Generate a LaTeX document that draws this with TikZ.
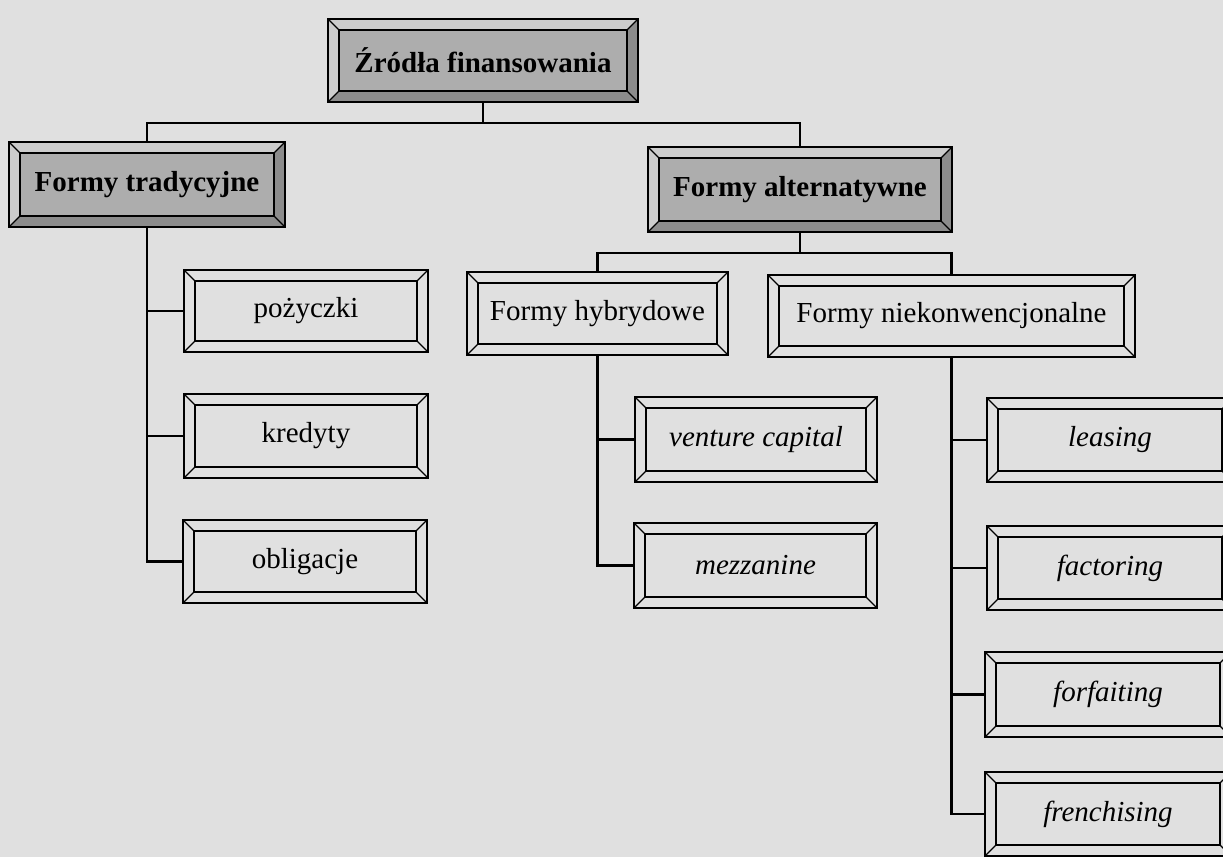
\documentclass[tikz,border=0pt]{standalone}
\usepackage{fontspec}
\setmainfont{Liberation Serif}
\newcommand{\bev}{11pt}
\begin{document}
\begin{tikzpicture}[x=1pt,y=-1pt]
  \definecolor{papier}{gray}{0.88}
  \definecolor{srodek}{gray}{0.68}
  \definecolor{jasny}{gray}{0.80}
  \definecolor{cien}{gray}{0.55}
  \tikzset{ramka/.style n args={3}{draw, line width=2.2pt, inner sep=0pt, align=center,
      path picture={
        \coordinate (pA) at (path picture bounding box.south west);
        \coordinate (pC) at (path picture bounding box.north east);
        \coordinate (pB) at (pA -| pC);
        \coordinate (pD) at (pA |- pC);
        \coordinate (qA) at ([shift={(\bev,\bev)}]pA);
        \coordinate (qB) at ([shift={(-\bev,\bev)}]pB);
        \coordinate (qC) at ([shift={(-\bev,-\bev)}]pC);
        \coordinate (qD) at ([shift={(\bev,-\bev)}]pD);
        \fill[#2] (pA) -- (pD) -- (pC) -- (qC) -- (qD) -- (qA) -- cycle;
        \fill[#3] (pA) -- (pB) -- (pC) -- (qC) -- (qB) -- (qA) -- cycle;
        \fill[#1] (qA) rectangle (qC);
        \draw[line width=1.8pt] (qA) rectangle (qC);
        \draw[line width=1.2pt] (pA) -- (qA) (pB) -- (qB) (pC) -- (qC) (pD) -- (qD);
      }}}
  \tikzstyle{glowny}=[ramka={srodek}{jasny}{cien}, font=\fontsize{29}{34}\selectfont\bfseries]
  \tikzstyle{zwykly}=[ramka={papier}{papier}{papier}, font=\fontsize{29}{34}\selectfont]
  \tikzstyle{kursywa}=[ramka={papier}{papier}{papier}, font=\fontsize{29}{34}\selectfont\itshape]
  \tikzstyle{lin}=[line width=2.4pt]

  % Tlo kartki, wymiary w pikselach skanu.
  \fill[papier] (0,0) rectangle (1223,857);
  \useasboundingbox (0,0) rectangle (1223,857);

  % Korzen i dwie glowne grupy
  \node[glowny, minimum width=310, minimum height=83] (zr) at (483,60.5) {Źródła finansowania};
  \node[glowny, minimum width=276, minimum height=85] (tr) at (147,184.5) {Formy tradycyjne};
  \node[glowny, minimum width=304, minimum height=85] (alt) at (800,189.5) {Formy alternatywne};

  \draw[lin] (zr.south) -- ++(0,20) -| (tr.north);
  \draw[lin] (zr.south) -- ++(0,20) -| (alt.north);

  % Formy tradycyjne, kolumna przy x = 305
  \node[zwykly, minimum width=244, minimum height=82] (t1) at (306,311) {pożyczki};
  \node[zwykly, minimum width=244, minimum height=84] (t2) at (306,436) {kredyty};
  \node[zwykly, minimum width=244, minimum height=83] (t3) at (305,561.5) {obligacje};

  \draw[lin] (tr.south) |- (t3.west);
  \draw[lin] (tr.south |- t1.west) -- (t1.west);
  \draw[lin] (tr.south |- t2.west) -- (t2.west);

  % Formy alternatywne
  \node[zwykly, minimum width=261, minimum height=83] (hyb) at (597.5,313.5) {Formy hybrydowe};
  \node[zwykly, minimum width=367, minimum height=82] (niek) at (951.5,316) {Formy niekonwencjonalne};

  \draw[lin] (alt.south) -- ++(0,20) -| (hyb.north);
  \draw[lin] (alt.south) -- ++(0,20) -| (niek.north);

  \node[kursywa, minimum width=242, minimum height=85] (h1) at (756,439.5) {venture capital};
  \node[kursywa, minimum width=243, minimum height=85] (h2) at (755.5,565.5) {mezzanine};

  \draw[lin] (hyb.south) |- (h2.west);
  \draw[lin] (hyb.south |- h1.west) -- (h1.west);

  % Prawa kolumna wychodzi poza brzeg skanu
  \node[kursywa, minimum width=246, minimum height=84] (n1) at (1110,440) {leasing};
  \node[kursywa, minimum width=246, minimum height=84] (n2) at (1110,568) {factoring};
  \node[kursywa, minimum width=246, minimum height=85] (n3) at (1108,694.5) {forfaiting};
  \node[kursywa, minimum width=246, minimum height=84] (n4) at (1108,814) {frenchising};

  \draw[lin] (niek.south) |- (n4.west);
  \draw[lin] (niek.south |- n1.west) -- (n1.west);
  \draw[lin] (niek.south |- n2.west) -- (n2.west);
  \draw[lin] (niek.south |- n3.west) -- (n3.west);
\end{tikzpicture}
\end{document}
